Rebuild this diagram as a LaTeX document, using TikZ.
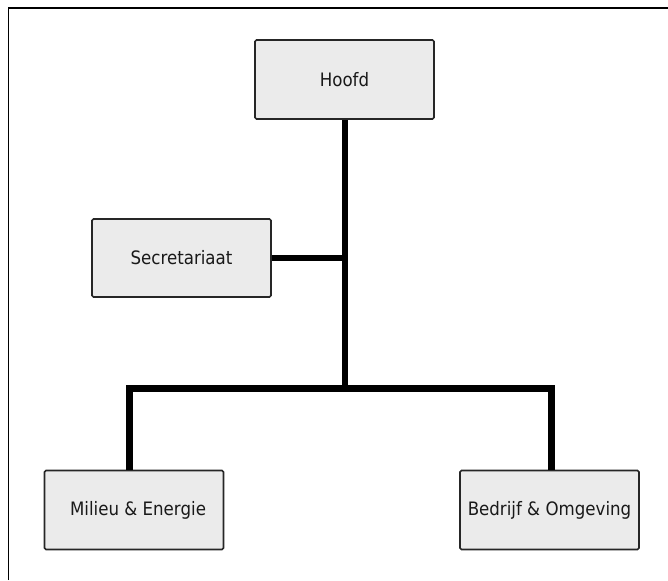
\documentclass[tikz,border=0pt]{standalone}
\usepackage{fontspec}
\setmainfont[FakeStretch=0.9]{DejaVu Sans}
\begin{document}
\begin{tikzpicture}[x=1pt,y=-1pt,
  unit/.style={draw=black!85, line width=1.6pt, fill=black!8, rounded corners=1.5pt,
    inner sep=0pt, font=\fontsize{18.5}{21}\selectfont, text=black!90},
  conn/.style={line width=6.5pt, line join=miter, line cap=butt},
  frame/.style={line width=1.8pt}]
\useasboundingbox (0,0) rectangle (668,580);
% frame
\draw[frame] (8.5,580) -- (8.5,8) -- (668,8);

% units
\node[unit, minimum width=179pt, minimum height=79pt] (hoofd) at (344.5,79.5) {Hoofd};
\node[unit, minimum width=179pt, minimum height=78pt] (secr) at (181.5,258) {Secretariaat};
\node[unit, minimum width=179pt, minimum height=79pt] (milieu) at (134,510) {\hspace*{8pt}Milieu \& Energie};
\node[unit, minimum width=179pt, minimum height=79pt] (bedrijf) at (549.5,510) {Bedrijf \& Omgeving};

% connectors
\coordinate (junction) at (345,388.5);
\coordinate (barL) at (129.5,388.5);
\coordinate (barR) at (551.5,388.5);
\draw[conn] (hoofd.south -| junction) -- (junction);
\draw[conn] (secr.east) -- (secr.east -| junction);
\draw[conn] (barL |- milieu.north) -- (barL) -- (barR) -- (barR |- bedrijf.north);
\end{tikzpicture}
\end{document}
